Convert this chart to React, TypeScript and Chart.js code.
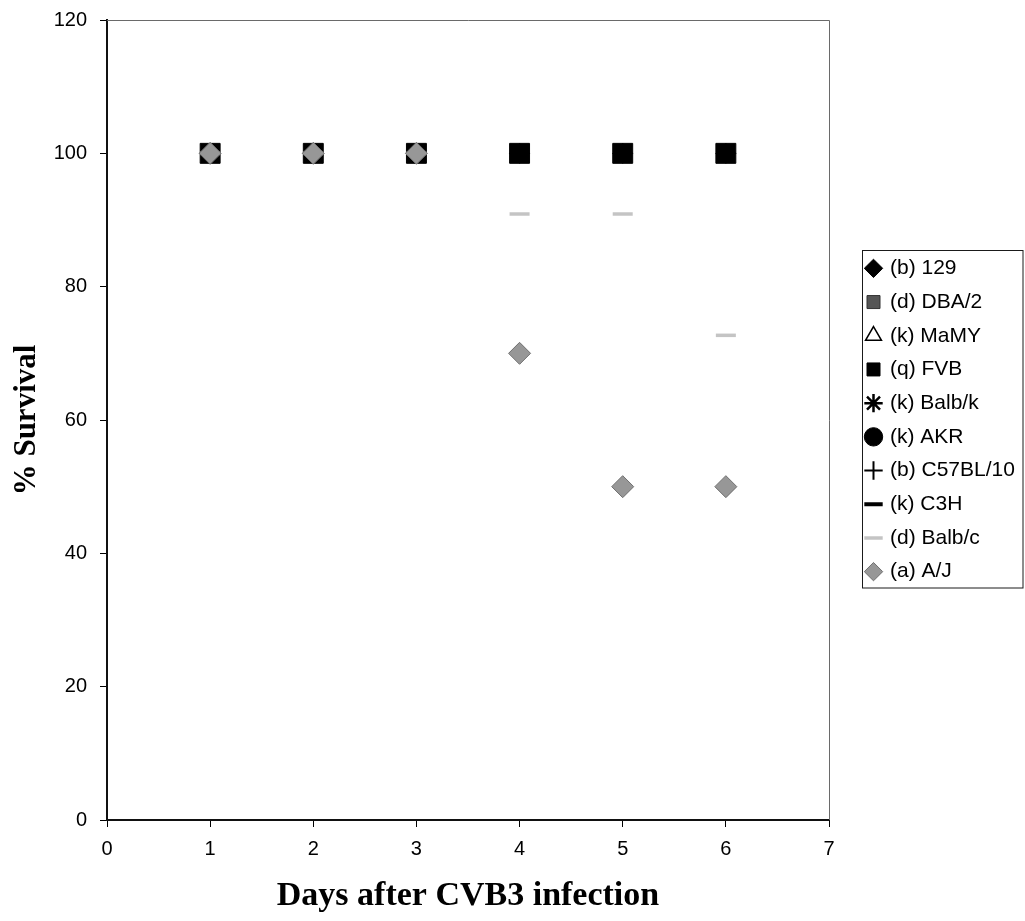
import React, { useEffect, useRef } from 'react';
import { Chart, registerables } from 'chart.js';

Chart.register(...registerables);

// ---------- data ----------
const days = [1, 2, 3, 4, 5, 6];
const strainLabels = [
  '(b) 129',
  '(d) DBA/2',
  '(k) MaMY',
  '(q) FVB',
  '(k) Balb/k',
  '(k) AKR',
  '(b) C57BL/10',
  '(k) C3H',
  '(d) Balb/c',
  '(a) A/J',
];
const s129 = [100, 100, 100, 100, 100, 100];
const sDBA2 = [100, 100, 100, 100, 100, 100];
const sMaMY = [100, 100, 100, 100, 100, 100];
const sFVB = [100, 100, 100, 100, 100, 100];
const sBalbK = [100, 100, 100, 100, 100, 100];
const sAKR = [100, 100, 100, 100, 100, 100];
const sC57 = [100, 100, 100, 100, 100, 100];
const sC3H = [100, 100, 100, 100, 100, 100];
const sBalbC = [100, 100, 100, 90.9, 90.9, 72.7];
const sAJ = [100, 100, 100, 70, 50, 50];
const xTickValues = [0, 1, 2, 3, 4, 5, 6, 7];
const yTickValues = [0, 20, 40, 60, 80, 100, 120];

const seriesValues = [s129, sDBA2, sMaMY, sFVB, sBalbK, sAKR, sC57, sC3H, sBalbC, sAJ];

// ---------- styles ----------
const markerStyles = [
  { style: 'rectRot', r: 10, bg: '#000000', bc: '#000000', bw: 1 },
  { style: 'rect', r: 12, bg: '#555555', bc: '#333333', bw: 1 },
  { style: 'triangle', r: 8, bg: '#ffffff', bc: '#000000', bw: 1.5 },
  { style: 'rect', r: 14.1, bg: '#000000', bc: '#000000', bw: 1 },
  { style: 'star', r: 8, bg: '#000000', bc: '#000000', bw: 2.5 },
  { style: 'circle', r: 8, bg: '#000000', bc: '#000000', bw: 1 },
  { style: 'cross', r: 8, bg: '#000000', bc: '#000000', bw: 2 },
  { style: 'line', r: 5, bg: '#000000', bc: '#000000', bw: 4 },
  { style: 'line', r: 10, bg: '#c4c4c4', bc: '#c4c4c4', bw: 3.5 },
  { style: 'rectRot', r: 11, bg: '#979797', bc: '#6f6f6f', bw: 1 },
];

const SANS = "'Liberation Sans', Arial, sans-serif";
const SERIF = "'Liberation Serif', 'Times New Roman', serif";

const LEGEND_WIDTH = 170.2;
const LEGEND_GAP = 25.8;

const framePlugin = {
  id: 'frameAndLegendBox',
  beforeLayout(chart: any) {
    const lg = chart.legend;
    if (lg && !lg.__fixedWidth) {
      const orig = lg.fit;
      lg.fit = function () {
        orig.call(this);
        this.width = LEGEND_WIDTH;
      };
      lg.__fixedWidth = true;
    }
  },
  afterDraw(chart: any) {
    const { ctx, chartArea } = chart;
    const { left, top, right, bottom } = chartArea;
    ctx.save();
    ctx.strokeStyle = '#6a6a6a';
    ctx.lineWidth = 1;
    ctx.beginPath();
    ctx.moveTo(left, Math.round(top) + 0.5);
    ctx.lineTo(Math.round(right) + 0.5, Math.round(top) + 0.5);
    ctx.lineTo(Math.round(right) + 0.5, bottom);
    ctx.stroke();

    const lg = chart.legend;
    const hb = lg && lg.legendHitBoxes;
    if (hb && hb.length) {
      const last = hb[hb.length - 1];
      const bx = Math.round(lg.left + 7.2) + 0.5;
      const by = Math.round(hb[0].top - 8) + 0.5;
      const bw = 1023 - bx;
      const bh = Math.round(last.top + last.height + 6) - by;
      ctx.strokeStyle = '#1a1a1a';
      ctx.lineWidth = 1;
      ctx.strokeRect(bx, by, bw, bh);
    }
    ctx.restore();
  },
};

export default function App() {
  const ref = useRef<HTMLCanvasElement>(null);

  useEffect(() => {
    document.body.style.margin = '0';
    const datasets = strainLabels.map((label, i) => {
      const m = markerStyles[i];
      return {
        label,
        data: days.map((d, j) => ({ x: d, y: seriesValues[i][j] })),
        showLine: false,
        pointStyle: m.style,
        pointRadius: m.r,
        pointHoverRadius: m.r,
        pointBackgroundColor: m.bg,
        pointBorderColor: m.bc,
        pointBorderWidth: m.bw,
        backgroundColor: m.bg,
        borderColor: m.bc,
        borderWidth: m.bw,
        order: -i,
        yAxisID: 'y',
        xAxisID: 'x',
      };
    });

    const chart = new Chart(ref.current as HTMLCanvasElement, {
      type: 'scatter',
      data: { datasets } as any,
      plugins: [framePlugin as any],
      options: {
        responsive: false,
        animation: false,
        events: [],
        layout: { padding: { top: 20, right: 0, bottom: 0, left: 0 } },
        plugins: {
          tooltip: { enabled: false },
          legend: {
            display: true,
            position: 'right',
            fullSize: false,
            labels: {
              usePointStyle: true,
              boxWidth: 12,
              boxHeight: 13,
              padding: 12.7,
              color: '#000',
              font: { family: SANS, size: 21 },
              sort: (a: any, b: any) => a.datasetIndex - b.datasetIndex,
            },
          },
        },
        scales: {
          x: {
            type: 'linear',
            position: 'bottom',
            min: 0,
            max: 7,
            afterBuildTicks: (s: any) => {
              s.ticks = xTickValues.map((v) => ({ value: v }));
            },
            afterFit: (s: any) => {
              s.height = 101;
              s.paddingLeft = 0;
              s.paddingRight = 0;
            },
            grid: {
              display: true,
              drawOnChartArea: false,
              drawTicks: true,
              tickLength: 7,
              color: '#000',
              lineWidth: 1,
            },
            border: { display: true, color: '#111', width: 2 },
            ticks: {
              color: '#000',
              padding: 10,
              maxRotation: 0,
              font: { family: SANS, size: 20 },
            },
            title: {
              display: true,
              text: 'Days after CVB3 infection',
              color: '#000',
              font: { family: SERIF, size: 34, weight: 'bold' },
              padding: { top: 0, bottom: 4 },
            },
          },
          y: {
            type: 'linear',
            position: 'left',
            min: 0,
            max: 120,
            afterBuildTicks: (s: any) => {
              s.ticks = yTickValues.map((v) => ({ value: v }));
            },
            afterFit: (s: any) => {
              s.width = 107;
              s.paddingTop = 0;
              s.paddingBottom = 0;
            },
            grid: {
              display: true,
              drawOnChartArea: false,
              drawTicks: true,
              tickLength: 7,
              color: '#000',
              lineWidth: 1,
            },
            border: { display: true, color: '#111', width: 2 },
            ticks: {
              color: '#000',
              padding: 13,
              font: { family: SANS, size: 20 },
            },
            title: {
              display: true,
              text: '% Survival',
              color: '#000',
              font: { family: SERIF, size: 31, weight: 'bold' },
              padding: { top: 8.4, bottom: 0 },
            },
          },
          gap: {
            type: 'linear',
            position: 'right',
            display: true,
            grid: { display: false, drawTicks: false },
            border: { display: false },
            ticks: { display: false },
            title: { display: false },
            afterFit: (s: any) => {
              s.width = LEGEND_GAP;
              s.paddingTop = 0;
              s.paddingBottom = 0;
            },
          },
        },
      } as any,
    });
    return () => chart.destroy();
  }, []);

  return (
    <div style={{ width: 1025, height: 921 }}>
      <canvas ref={ref} width={1025} height={921} style={{ display: 'block' }} />
    </div>
  );
}
